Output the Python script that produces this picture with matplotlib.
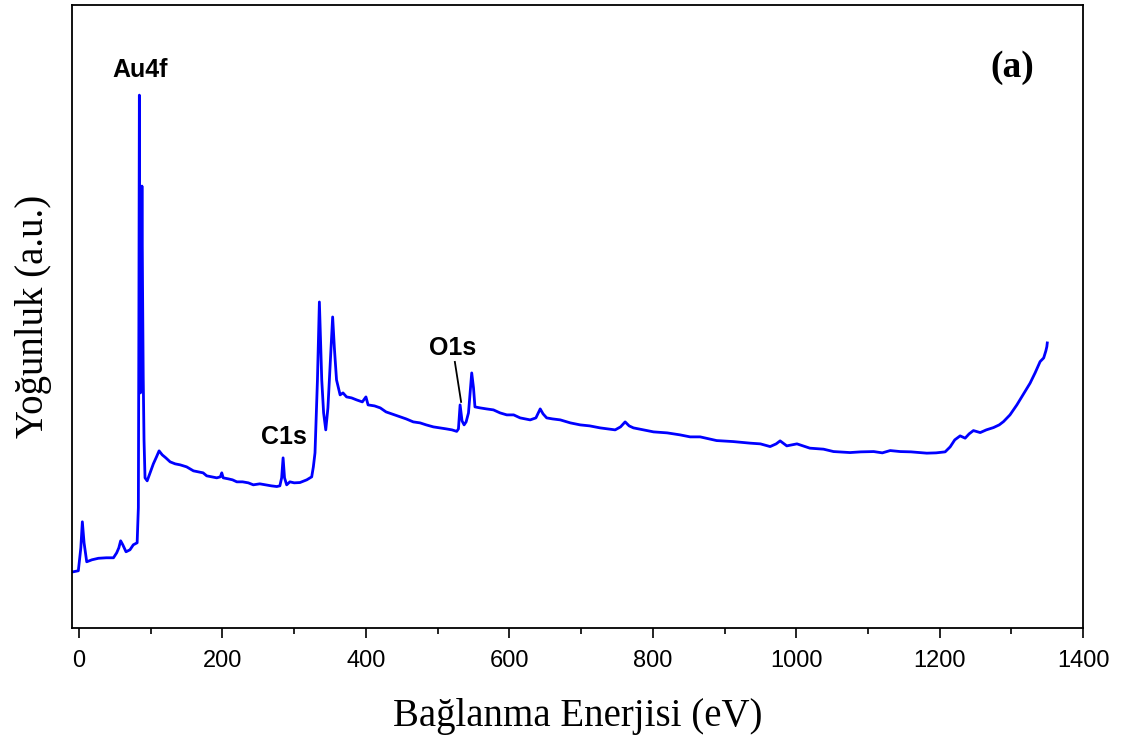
import numpy as np
import matplotlib
matplotlib.use("Agg")
import matplotlib.pyplot as plt

# XPS survey spectrum
energy = [-8, -1, 2.5, 4.6, 7, 10.7, 18, 27, 38, 48, 52.5, 55.5, 58, 61, 65.5, 71,
          75.7, 81, 82.7, 83.4, 84.1, 84.7, 85.6, 86.6, 87.7, 88.5, 89.5, 90.6, 92,
          95, 99, 103.6, 108, 111.6, 116, 121, 127, 134, 141, 150, 159.5, 166, 173,
          178, 185, 192, 197, 199, 201, 208, 214, 220, 228, 236, 243, 252, 260,
          268, 275.7, 280, 282.5, 284.5, 286.5, 289.5, 294, 300, 308, 317.5, 322,
          324.4, 326.7, 329, 332.4, 335.1, 338.4, 341, 344, 347, 349, 353.6, 356,
          359, 364, 368, 373, 380, 387, 395, 400, 403, 412, 420, 428, 436, 447.6,
          456, 466, 475.5, 484, 494, 503.4, 512, 520, 526.6, 529, 531.3, 534,
          536.9, 539.7, 543, 547.5, 550, 552, 559.2, 568, 577.8, 587, 596.4, 606,
          615, 629, 637, 643, 647, 652, 660, 671, 685, 698.7, 712, 726.5, 737,
          747.5, 755, 761.4, 767, 773, 787, 801, 820, 838, 852, 866, 889, 912, 936,
          950, 963.6, 972, 977.5, 986.8, 1001, 1019, 1038, 1052, 1075, 1090, 1108,
          1120, 1131, 1145, 1160, 1182, 1195, 1207.6, 1214.6, 1221, 1228.5, 1235.5,
          1241, 1247, 1256.5, 1265, 1275, 1283, 1289, 1298, 1307.6, 1317, 1326,
          1333, 1340, 1345, 1348, 1349.4, 1350]
intensity = [56, 57, 80, 106, 85, 66, 68, 69.5, 70, 70, 75, 80, 87, 83, 76, 78,
             83, 85, 120, 300, 533, 270, 235, 300, 442, 346, 250, 188, 150,
             147, 155, 164, 171, 177, 173, 170, 166, 164, 163, 161, 157, 156, 155,
             152, 151, 150, 151, 155, 150, 149, 148, 146, 146, 145, 143, 144, 143,
             142, 141.3, 142, 150, 170, 150, 143, 146, 145, 145.3, 148, 150, 151,
             161, 175, 248, 326, 248, 215, 198, 220, 248, 311, 280, 248, 233, 235,
             231, 230, 228, 226, 231, 223, 222, 220, 216, 214, 211, 209, 206, 205,
             203, 201, 200, 199, 198, 196.5, 199, 223, 207, 203, 206, 215, 255, 240,
             221, 220, 219, 218, 215, 213, 213, 210, 208, 210, 219, 214, 210, 209,
             208, 205, 203, 202, 200, 199, 198, 201, 206, 202, 200, 198, 196, 195,
             193, 191, 191, 187.3, 186.3, 184.7, 184, 181.3, 184, 187, 182, 184,
             179.7, 178.7, 176.3, 175.3, 176, 176.3, 175, 177.3, 176.3, 176, 174.7,
             175, 176, 181, 188, 192, 189.7, 194, 197.3, 195.3, 198, 200.3, 203,
             206.3, 213, 223, 234, 244.7, 255, 266.3, 270, 277, 281.3, 285]

label_names = ["Au4f", "C1s", "O1s"]
label_x = [85, 286, 521]
label_y = [558, 191, 280]

fig = plt.figure(figsize=(11.23, 7.42), dpi=100)
ax = fig.add_axes([0.064, 0.154, 0.9005, 0.839])

ax.plot(energy, intensity, color="#0000ff", lw=2.0)

for name, lx, ly in zip(label_names, label_x, label_y):
    ax.text(lx, ly, name, ha="center", va="center", fontsize=18,
            fontweight="bold", family="Liberation Sans")
ax.plot([524, 532.7], [266, 226], color="black", lw=1.3)
ax.text(1301, 561, "(a)", ha="center", va="center", fontsize=27,
        fontweight="bold", family="Liberation Serif")

ax.set_xlim(-10, 1400)
ax.set_ylim(0, 623)
ax.set_xticks(np.arange(0, 1401, 200))
ax.set_xticks(np.arange(100, 1400, 200), minor=True)
ax.set_yticks([])
ax.tick_params(axis="x", which="major", direction="out", length=7, width=1.2,
               labelsize=17, pad=9)
ax.tick_params(axis="x", which="minor", direction="out", length=4, width=1.2)
for lab in ax.get_xticklabels():
    lab.set_family("Liberation Sans")
for sp in ax.spines.values():
    sp.set_linewidth(1.3)

ax.set_xlabel("Bağlanma Enerjisi (eV)", family="Liberation Serif", fontsize=28,
              labelpad=19)
ax.set_ylabel("Yoğunluk (a.u.)", family="Liberation Serif", fontsize=28,
              labelpad=14)

fig.savefig("out.png", dpi=100)
